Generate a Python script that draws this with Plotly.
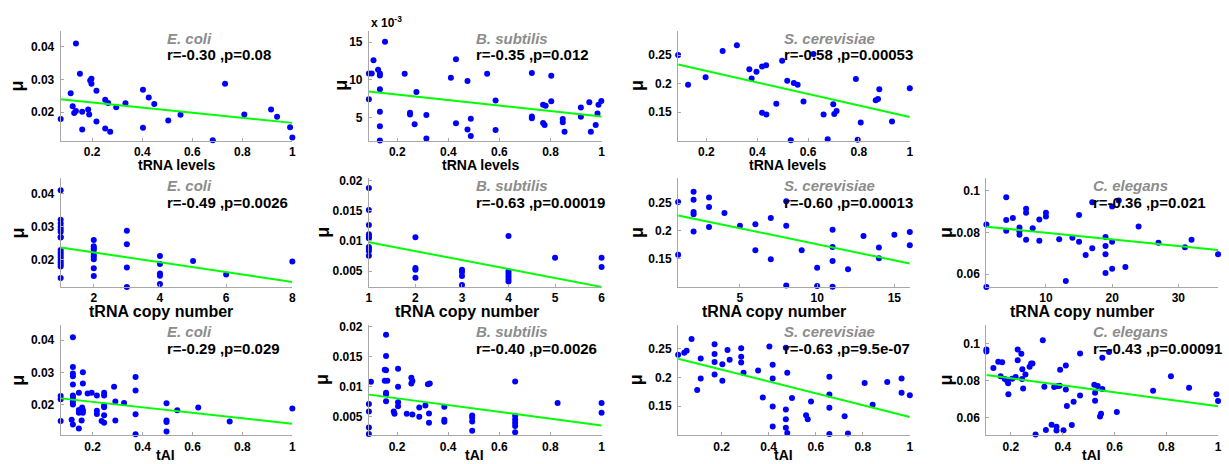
import plotly.graph_objects as go

# ---------------- data ----------------
# Row 1: tRNA levels
ecoli_lev_x = [0.074,0.135,0.114,0.122,0.128,0.135,0.151,0.160,0.160,0.184,0.188,0.192,0.197,0.197,0.217,0.217,0.252,0.252,0.264,0.272,0.296,0.333,0.403,0.403,0.426,0.448,0.504,0.553,0.682,0.731,0.808,0.915,0.939,0.991,1.0]
ecoli_lev_y = [0.0179,0.0410,0.0258,0.0218,0.0197,0.0203,0.0317,0.0201,0.0147,0.0208,0.0193,0.0297,0.0302,0.0287,0.0265,0.0171,0.0238,0.0150,0.0228,0.0140,0.0215,0.0227,0.0268,0.0152,0.0245,0.0225,0.0174,0.0192,0.0114,0.0287,0.0193,0.0208,0.0186,0.0154,0.0122]
ecoli_lev_fit_x = [0.074, 1.0]
ecoli_lev_fit_y = [0.0239, 0.0167]

bsub_lev_x = [0.089,0.089,0.100,0.107,0.125,0.132,0.132,0.132,0.132,0.132,0.132,0.152,0.229,0.250,0.250,0.268,0.275,0.314,0.314,0.410,0.430,0.430,0.475,0.475,0.488,0.488,0.552,0.585,0.585,0.727,0.727,0.727,0.771,0.781,0.771,0.777,0.803,0.803,0.848,0.848,0.855,0.919,0.919,0.952,0.958,0.977,0.984,0.988,0.999]
bsub_lev_y = [7.41,10.83,10.83,12.59,11.32,10.83,10.57,8.73,5.75,3.82,1.93,15.04,10.79,5.61,5.39,4.08,8.38,5.31,2.19,10.26,12.72,4.21,9.82,3.38,4.82,2.54,10.79,7.24,3.33,10.88,5.13,4.87,6.67,6.54,4.25,3.99,10.53,7.15,4.78,4.34,3.11,6.32,5.09,7.02,3.11,3.99,5.53,6.67,7.19]
bsub_lev_fit_x = [0.089, 1.0]
bsub_lev_fit_y = [8.42, 5.13]

scer_lev_x = [0.089,0.128,0.197,0.264,0.320,0.369,0.378,0.397,0.419,0.435,0.419,0.436,0.475,0.498,0.518,0.532,0.544,0.559,0.582,0.621,0.661,0.677,0.699,0.703,0.712,0.788,0.795,0.807,0.866,0.875,0.880,0.930,1.0]
scer_lev_y = [0.250,0.198,0.211,0.257,0.267,0.225,0.209,0.221,0.230,0.232,0.149,0.146,0.165,0.240,0.205,0.101,0.201,0.198,0.169,0.252,0.146,0.103,0.164,0.147,0.152,0.208,0.102,0.132,0.171,0.173,0.190,0.134,0.192]
scer_lev_fit_x = [0.089, 1.0]
scer_lev_fit_y = [0.2335, 0.1416]

# Row 2: tRNA copy number
ecoli_cn_x = [1,1,1,1,1,1,1,1,1,1,1,1,1,1,1,1,1, 2,2,2,2,2,2,2,2,2, 3,3,3,3, 4,4,4,4,4, 5, 6, 8]
ecoli_cn_y = [0.0410,0.0320,0.0309,0.0299,0.0291,0.0284,0.0268,0.0266,0.0228,0.0221,0.0214,0.0206,0.0198,0.0191,0.0184,0.0178,0.0143,
              0.0259,0.0240,0.0234,0.0228,0.0214,0.0208,0.0200,0.0173,0.0149,
              0.0287,0.0246,0.0175,0.0116,
              0.0210,0.0186,0.0157,0.0150,0.0125,
              0.0195, 0.0154, 0.0193]
ecoli_cn_fit_x = [1, 8]
ecoli_cn_fit_y = [0.0236, 0.0131]

bsub_cn_x = [1,1,1,1,1,1,1,1,1,1, 2,2,2,2, 3,3,3,3, 4,4,4,4,4,4,4, 5, 6,6]
bsub_cn_y = [0.01874,0.01511,0.01264,0.01110,0.01077,0.01044,0.00896,0.00868,0.00830,0.00753,
             0.01060,0.00549,0.00522,0.00390,
             0.00522,0.00484,0.00418,0.00269,
             0.01082,0.00495,0.00456,0.00412,0.00368,0.00324,0.00225,
             0.0072,
             0.0072,0.00566]
bsub_cn_fit_x = [1, 6]
bsub_cn_fit_y = [0.00978, 0.00236]

scer_cn_x = [1,1, 2,2,2,2,2, 3,3,3, 4, 5, 6,6, 7,7, 8,8,8, 9, 10,10, 11,11,11,11, 12, 13, 14,14, 15, 16,16]
scer_cn_y = [0.252,0.157, 0.270,0.256,0.234,0.230,0.199, 0.260,0.243,0.207, 0.232, 0.209, 0.212,0.165, 0.223,0.149,
             0.253,0.209,0.102, 0.165, 0.134,0.101, 0.202,0.171,0.146,0.0995, 0.131, 0.191, 0.170,0.151, 0.193, 0.198,0.174]
scer_cn_fit_x = [1, 16]
scer_cn_fit_y = [0.2278, 0.1414]

cele_cn_x = [1,1,4,4,4,5,6,6,6,7,7,7,8,9,9,10,10,12,13,14,15,15,16,17,17,19,19,19,19,20,20,20,21,22,24,27,31,32,36]
cele_cn_y = [0.0838,0.0539,0.0969,0.0860,0.0808,0.0870,0.0824,0.0806,0.0789,0.0914,0.0895,0.0765,0.0821,0.0862,0.0760,0.0895,0.0877,0.0768,0.0568,0.0775,0.0884,0.0756,0.0692,0.0724,0.0945,0.0779,0.0735,0.0696,0.0606,0.0925,0.0756,0.0626,0.0953,0.0634,0.0829,0.0751,0.0729,0.0765,0.0696]
cele_cn_fit_x = [1, 36]
cele_cn_fit_y = [0.0828, 0.0716]

# Row 3: tAI
ecoli_tai_x = [0.072,0.072,0.072,0.121,0.121,0.121,0.121,0.121,0.121,0.121,0.121,0.121,0.116,0.121,0.145,0.145,0.145,0.145,0.154,0.158,0.161,0.161,0.161,0.161,0.156,0.180,0.196,0.217,0.217,0.217,0.236,0.246,0.246,0.246,0.246,0.246,0.246,0.286,0.291,0.291,0.326,0.372,0.372,0.372,0.372,0.496,0.496,0.496,0.496,0.539,0.623,0.749,1.0]
ecoli_tai_y = [0.0227,0.0217,0.0150,0.0409,0.0317,0.0297,0.0288,0.0263,0.0229,0.0222,0.0210,0.0201,0.0154,0.0139,0.0237,0.0184,0.0176,0.0127,0.0180,0.0192,0.0301,0.0266,0.0183,0.0176,0.0152,0.0235,0.0237,0.0229,0.0182,0.0172,0.0150,0.0237,0.0229,0.0198,0.0193,0.0168,0.0145,0.0256,0.0210,0.0152,0.0206,0.0286,0.0244,0.0171,0.0109,0.0205,0.0152,0.0147,0.0118,0.0183,0.0192,0.0149,0.0189]
ecoli_tai_fit_x = [0.072, 1.0]
ecoli_tai_fit_y = [0.0220, 0.0142]

bsub_tai_x = [0.090,0.090,0.090,0.090,0.098,0.152,0.157,0.157,0.157,0.152,0.162,0.157,0.157,0.157,0.204,0.204,0.204,0.204,0.187,0.190,0.238,0.256,0.260,0.256,0.260,0.287,0.287,0.311,0.321,0.328,0.325,0.325,0.385,0.385,0.385,0.494,0.494,0.494,0.494,0.662,0.662,0.662,0.662,0.662,0.662,0.828,1.0,1.0]
bsub_tai_y = [0.00713,0.00587,0.00322,0.00212,0.01083,0.01281,0.01866,0.01513,0.01276,0.01099,0.01099,0.00901,0.00873,0.00757,0.01298,0.01000,0.00741,0.00675,0.00587,0.00548,0.00548,0.01149,0.01094,0.01055,0.00537,0.00653,0.00498,0.00686,0.01039,0.01055,0.00553,0.00399,0.00664,0.00449,0.00416,0.00520,0.00482,0.00421,0.00267,0.01088,0.00515,0.00454,0.00399,0.00344,0.00239,0.00730,0.00730,0.00565]
bsub_tai_fit_x = [0.090, 1.0]
bsub_tai_fit_y = [0.00868, 0.00355]

scer_tai_x = [0.015,0.041,0.051,0.072,0.096,0.111,0.111,0.170,0.170,0.170,0.170,0.203,0.203,0.225,0.234,0.283,0.283,0.283,0.293,0.355,0.375,0.403,0.417,0.417,0.417,0.417,0.473,0.473,0.473,0.473,0.479,0.479,0.499,0.580,0.559,0.566,0.658,0.658,0.658,0.658,0.723,0.737,0.808,0.842,0.904,0.965,0.965,1.0]
scer_tai_y = [0.2395,0.243,0.2465,0.267,0.178,0.233,0.198,0.258,0.241,0.227,0.205,0.223,0.194,0.248,0.231,0.251,0.236,0.226,0.208,0.212,0.165,0.254,0.222,0.198,0.149,0.114,0.252,0.144,0.127,0.112,0.103,0.208,0.164,0.158,0.134,0.127,0.201,0.170,0.147,0.101,0.132,0.102,0.190,0.152,0.192,0.198,0.173,0.169]
scer_tai_fit_x = [0.015, 1.0]
scer_tai_fit_y = [0.2326, 0.1308]

cele_tai_x = [0.105,0.105,0.132,0.151,0.166,0.160,0.176,0.185,0.189,0.190,0.205,0.218,0.226,0.226,0.240,0.244,0.243,0.247,0.256,0.272,0.278,0.283,0.295,0.323,0.329,0.335,0.357,0.367,0.376,0.376,0.381,0.388,0.390,0.403,0.412,0.412,0.416,0.435,0.442,0.467,0.467,0.522,0.525,0.525,0.535,0.544,0.548,0.553,0.553,0.579,0.609,0.749,0.818,0.888,0.994,1.0]
cele_tai_y = [0.0970,0.0959,0.0869,0.0903,0.0901,0.0824,0.0809,0.0800,0.0787,0.0726,0.0811,0.0820,0.0970,0.0912,0.0947,0.0862,0.0809,0.0758,0.0834,0.0876,0.0894,0.0894,0.0507,0.1021,0.0767,0.0532,0.0561,0.0766,0.0550,0.0529,0.0771,0.0773,0.0860,0.0530,0.0883,0.0753,0.0662,0.0559,0.0686,0.0720,0.0948,0.0778,0.0735,0.0691,0.0771,0.0605,0.0621,0.0925,0.0755,0.0956,0.0630,0.0746,0.0825,0.0762,0.0726,0.0690]
cele_tai_fit_x = [0.105, 1.0]
cele_tai_fit_y = [0.0831, 0.0661]

species = ["E. coli", "B. subtilis", "S. cerevisiae", "C. elegans"]
stats_lev = ["r=-0.30 ,p=0.08", "r=-0.35 ,p=0.012", "r=-0.58 ,p=0.00053"]
stats_cn = ["r=-0.49 ,p=0.0026", "r=-0.63 ,p=0.00019", "r=-0.60 ,p=0.00013", "r=-0.36 ,p=0.021"]
stats_tai = ["r=-0.29 ,p=0.029", "r=-0.40 ,p=0.0026", "r=-0.63 ,p=9.5e-07", "r=-0.43 ,p=0.00091"]
xlabels = ["tRNA levels", "tRNA copy number", "tAI"]

frac_ticks = [0.2, 0.4, 0.6, 0.8, 1]
frac_text = ["0.2", "0.4", "0.6", "0.8", "1"]

# ---------------- layout geometry (pixels) ----------------
W, H = 1229, 464
col_l = [58, 368, 679, 989]
col_r = [291, 602, 912, 1222]
row_t = [26, 175, 323]
row_b = [137, 285, 435]
xlab_size = [14, 16, 14]
# horizontal shift of x-axis labels from the axis centre, per row and column (px)
xlab_shift = [[0, -4, -6, 0], [-16, -18, -20, -20], [-11, -11, -11, -11]]

panels = [
    dict(r=0, c=0, x=ecoli_lev_x, y=ecoli_lev_y, fx=ecoli_lev_fit_x, fy=ecoli_lev_fit_y, sp=species[0], st=stats_lev[0],
         xr=[0.074, 1.0], yr=[0.0113, 0.0449], xt=frac_ticks, xtt=frac_text, yt=[0.02, 0.03, 0.04], ytt=["0.02", "0.03", "0.04"], mu=14),
    dict(r=0, c=1, x=bsub_lev_x, y=bsub_lev_y, fx=bsub_lev_fit_x, fy=bsub_lev_fit_y, sp=species[1], st=stats_lev[1],
         xr=[0.089, 1.0], yr=[1.93, 16.5], xt=frac_ticks, xtt=frac_text, yt=[5, 10, 15], ytt=["5", "10", "15"], mu=340),
    dict(r=0, c=2, x=scer_lev_x, y=scer_lev_y, fx=scer_lev_fit_x, fy=scer_lev_fit_y, sp=species[2], st=stats_lev[2],
         xr=[0.089, 1.0], yr=[0.1006, 0.2925], xt=frac_ticks, xtt=frac_text, yt=[0.15, 0.2, 0.25], ytt=["0.15", "0.2", "0.25"], mu=637),
    dict(r=1, c=0, x=ecoli_cn_x, y=ecoli_cn_y, fx=ecoli_cn_fit_x, fy=ecoli_cn_fit_y, sp=species[0], st=stats_cn[0],
         xr=[1, 8], yr=[0.0116, 0.0447], xt=[2, 4, 6, 8], xtt=["2", "4", "6", "8"], yt=[0.02, 0.03, 0.04], ytt=["0.02", "0.03", "0.04"], mu=15),
    dict(r=1, c=1, x=bsub_cn_x, y=bsub_cn_y, fx=bsub_cn_fit_x, fy=bsub_cn_fit_y, sp=species[1], st=stats_cn[1],
         xr=[1, 6], yr=[0.00236, 0.0204], xt=[1, 2, 3, 4, 5, 6], xtt=["1", "2", "3", "4", "5", "6"],
         yt=[0.005, 0.01, 0.015, 0.02], ytt=["0.005", "0.01", "0.015", "0.02"], mu=321),
    dict(r=1, c=2, x=scer_cn_x, y=scer_cn_y, fx=scer_cn_fit_x, fy=scer_cn_fit_y, sp=species[2], st=stats_cn[2],
         xr=[1, 16], yr=[0.0994, 0.2947], xt=[5, 10, 15], xtt=["5", "10", "15"], yt=[0.15, 0.2, 0.25], ytt=["0.15", "0.2", "0.25"], mu=637),
    dict(r=1, c=3, x=cele_cn_x, y=cele_cn_y, fx=cele_cn_fit_x, fy=cele_cn_fit_y, sp=species[3], st=stats_cn[3],
         xr=[1, 36], yr=[0.0539, 0.1061], xt=[10, 20, 30], xtt=["10", "20", "30"], yt=[0.06, 0.08, 0.1], ytt=["0.06", "0.08", "0.1"], mu=948),
    dict(r=2, c=0, x=ecoli_tai_x, y=ecoli_tai_y, fx=ecoli_tai_fit_x, fy=ecoli_tai_fit_y, sp=species[0], st=stats_tai[0],
         xr=[0.072, 1.0], yr=[0.0106, 0.0448], xt=frac_ticks, xtt=frac_text, yt=[0.02, 0.03, 0.04], ytt=["0.02", "0.03", "0.04"], mu=15),
    dict(r=2, c=1, x=bsub_tai_x, y=bsub_tai_y, fx=bsub_tai_fit_x, fy=bsub_tai_fit_y, sp=species[1], st=stats_tai[1],
         xr=[0.090, 1.0], yr=[0.0019, 0.02036], xt=frac_ticks, xtt=frac_text,
         yt=[0.005, 0.01, 0.015, 0.02], ytt=["0.005", "0.01", "0.015", "0.02"], mu=321),
    dict(r=2, c=2, x=scer_tai_x, y=scer_tai_y, fx=scer_tai_fit_x, fy=scer_tai_fit_y, sp=species[2], st=stats_tai[2],
         xr=[0.015, 1.0], yr=[0.0988, 0.2924], xt=frac_ticks, xtt=frac_text, yt=[0.15, 0.2, 0.25], ytt=["0.15", "0.2", "0.25"], mu=637),
    dict(r=2, c=3, x=cele_tai_x, y=cele_tai_y, fx=cele_tai_fit_x, fy=cele_tai_fit_y, sp=species[3], st=stats_tai[3],
         xr=[0.105, 1.0], yr=[0.0503, 0.1106], xt=frac_ticks, xtt=frac_text, yt=[0.06, 0.08, 0.1], ytt=["0.06", "0.08", "0.1"], mu=948),
]

FONT = "Liberation Sans, Arial, Helvetica, sans-serif"
AXC = "#a8a8a8"

fig = go.Figure()
layout = dict(
    width=W, height=H, margin=dict(l=0, r=0, t=0, b=0),
    paper_bgcolor="white", plot_bgcolor="white", showlegend=False,
    font=dict(family=FONT, color="black"),
)
annotations = []

def px2x(p):
    return p / W

def px2y(p):
    return 1 - p / H

for i, p in enumerate(panels, start=1):
    sfx = "" if i == 1 else str(i)
    xa, ya = "x" + sfx, "y" + sfx
    l, rgt = col_l[p["c"]], col_r[p["c"]]
    t, b = row_t[p["r"]], row_b[p["r"]]

    fig.add_trace(go.Scatter(x=p["x"], y=p["y"], mode="markers", xaxis=xa, yaxis=ya,
                             marker=dict(color="#0000ff", size=6), cliponaxis=False))
    fig.add_trace(go.Scatter(x=p["fx"], y=p["fy"], mode="lines", xaxis=xa, yaxis=ya,
                             line=dict(color="#00ff00", width=2), cliponaxis=False))

    common = dict(showgrid=False, zeroline=False, showline=True, linecolor=AXC, linewidth=1,
                  ticks="inside", ticklen=3, tickcolor=AXC, mirror=False,
                  tickfont=dict(family=FONT, size=12, color="black", weight="bold"))
    layout["xaxis" + sfx] = dict(common, domain=[px2x(l), px2x(rgt)], anchor=ya, range=p["xr"],
                                  tickmode="array", tickvals=p["xt"], ticktext=p["xtt"])
    layout["yaxis" + sfx] = dict(common, domain=[px2y(b), px2y(t)], anchor=xa, range=p["yr"],
                                  tickmode="array", tickvals=p["yt"], ticktext=p["ytt"], ticklabelstandoff=3)

    tx = l + 0.45 * (rgt - l)
    annotations.append(dict(x=px2x(tx), y=px2y(t + 7.5), xref="paper", yref="paper", xanchor="left", yanchor="middle",
                            text="<b><i>" + p["sp"] + "</i></b>", showarrow=False,
                            font=dict(family=FONT, size=15, color="#8c8c8c")))
    annotations.append(dict(x=px2x(tx), y=px2y(t + 24.5), xref="paper", yref="paper", xanchor="left", yanchor="middle",
                            text="<b>" + p["st"] + "</b>", showarrow=False,
                            font=dict(family=FONT, size=15, color="black")))
    annotations.append(dict(x=px2x(p["mu"]), y=px2y((t + b) / 2), xref="paper", yref="paper", xanchor="center", yanchor="middle",
                            text="<b>μ</b>", textangle=-90, showarrow=False,
                            font=dict(family=FONT, size=18, color="black")))
    xc = (l + rgt) / 2 + xlab_shift[p["r"]][p["c"]]
    if p["r"] == 2:
        ylab, yanc = px2y(464), "bottom"
    else:
        ylab, yanc = px2y(b + 25), "middle"
    annotations.append(dict(x=px2x(xc), y=ylab, xref="paper", yref="paper",
                            xanchor="center", yanchor=yanc, borderpad=0,
                            text="<b>" + xlabels[p["r"]] + "</b>", showarrow=False,
                            font=dict(family=FONT, size=xlab_size[p["r"]], color="black")))

# exponent label for B. subtilis tRNA levels panel
annotations.append(dict(x=px2x(368), y=px2y(17), xref="paper", yref="paper", xanchor="left", yanchor="middle",
                        text="<b>x 10<sup>-3</sup></b>", showarrow=False,
                        font=dict(family=FONT, size=12, color="black")))

layout["annotations"] = annotations
fig.update_layout(**layout)
fig.write_html("out.html", config={"displayModeBar": False},
               post_script="document.body.style.margin='0';document.body.style.padding='0';document.body.style.overflow='hidden';")
